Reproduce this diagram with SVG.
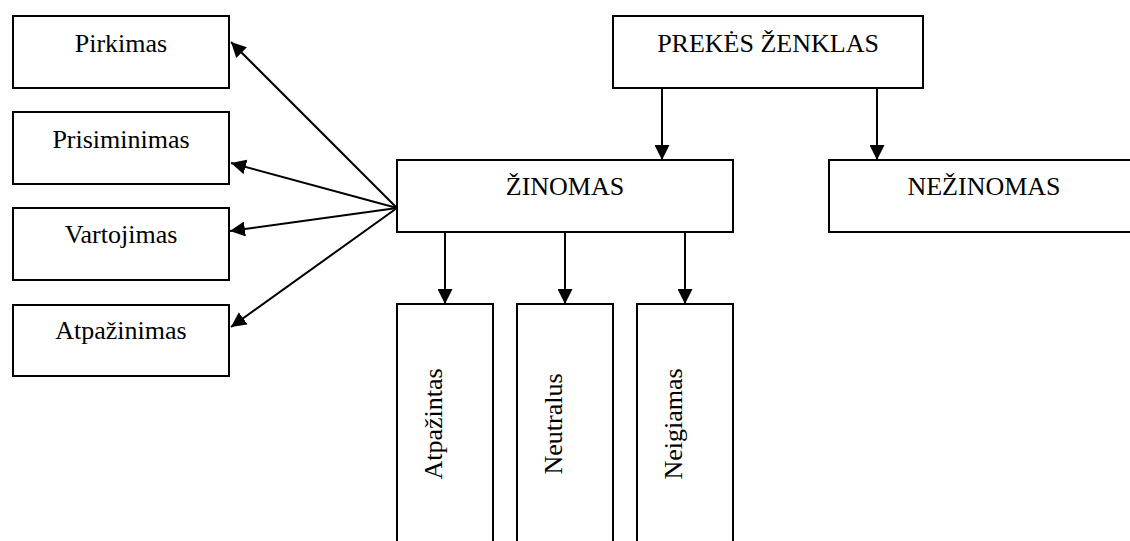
<svg xmlns="http://www.w3.org/2000/svg" width="1130" height="541" viewBox="0 0 1130 541">
  <style>
    .box { fill: #fff; stroke: #000; stroke-width: 2; }
    .lbl { font-family: "Liberation Serif", "Times New Roman", serif; font-size: 26px; fill: #000; text-anchor: middle; }
    .edge { fill: none; stroke: #000; stroke-width: 2; marker-end: url(#arrow); }
  </style>
  <defs>
    <marker id="arrow" markerWidth="15" markerHeight="15" refX="15" refY="7.5" orient="auto" markerUnits="userSpaceOnUse">
      <path d="M0,0 L15,7.5 L0,15 Z" fill="#000"/>
    </marker>
  </defs>
  <rect width="1130" height="541" fill="#fff"/>

  <!-- left-hand column -->
  <g id="pirkimas">
    <rect class="box" x="13" y="16" width="216" height="72"/>
    <text class="lbl" x="121" y="52">Pirkimas</text>
  </g>
  <g id="prisiminimas">
    <rect class="box" x="13" y="112" width="216" height="72"/>
    <text class="lbl" x="121" y="148">Prisiminimas</text>
  </g>
  <g id="vartojimas">
    <rect class="box" x="13" y="208" width="216" height="72"/>
    <text class="lbl" x="121" y="243">Vartojimas</text>
  </g>
  <g id="atpazinimas">
    <rect class="box" x="13" y="305" width="216" height="71"/>
    <text class="lbl" x="121" y="339">Atpažinimas</text>
  </g>

  <!-- top level -->
  <g id="prekes-zenklas">
    <rect class="box" x="613" y="16" width="310" height="72"/>
    <text class="lbl" x="768" y="52">PREKĖS ŽENKLAS</text>
  </g>
  <g id="zinomas">
    <rect class="box" x="397" y="160" width="336" height="72"/>
    <text class="lbl" x="565" y="195">ŽINOMAS</text>
  </g>
  <g id="nezinomas">
    <rect class="box" x="829" y="160" width="320" height="72"/>
    <text class="lbl" x="984" y="195">NEŽINOMAS</text>
  </g>

  <!-- vertical boxes -->
  <g id="atpazintas">
    <rect class="box" x="397" y="304" width="96" height="260"/>
    <text class="lbl" transform="translate(442,424) rotate(-90)">Atpažintas</text>
  </g>
  <g id="neutralus">
    <rect class="box" x="517" y="304" width="96" height="260"/>
    <text class="lbl" transform="translate(562,424) rotate(-90)">Neutralus</text>
  </g>
  <g id="neigiamas">
    <rect class="box" x="637" y="304" width="96" height="260"/>
    <text class="lbl" transform="translate(682,424) rotate(-90)">Neigiamas</text>
  </g>

  <!-- connectors -->
  <g id="connectors">
    <line class="edge" x1="662" y1="88" x2="662" y2="160"/>
    <line class="edge" x1="877" y1="88" x2="877" y2="160"/>
    <line class="edge" x1="445" y1="232" x2="445" y2="304"/>
    <line class="edge" x1="565" y1="232" x2="565" y2="304"/>
    <line class="edge" x1="685" y1="232" x2="685" y2="304"/>
    <line class="edge" x1="397" y1="208" x2="231" y2="42"/>
    <line class="edge" x1="397" y1="208" x2="231" y2="163"/>
    <line class="edge" x1="397" y1="208" x2="230" y2="231"/>
    <line class="edge" x1="397" y1="208" x2="231" y2="327"/>
  </g>
</svg>
